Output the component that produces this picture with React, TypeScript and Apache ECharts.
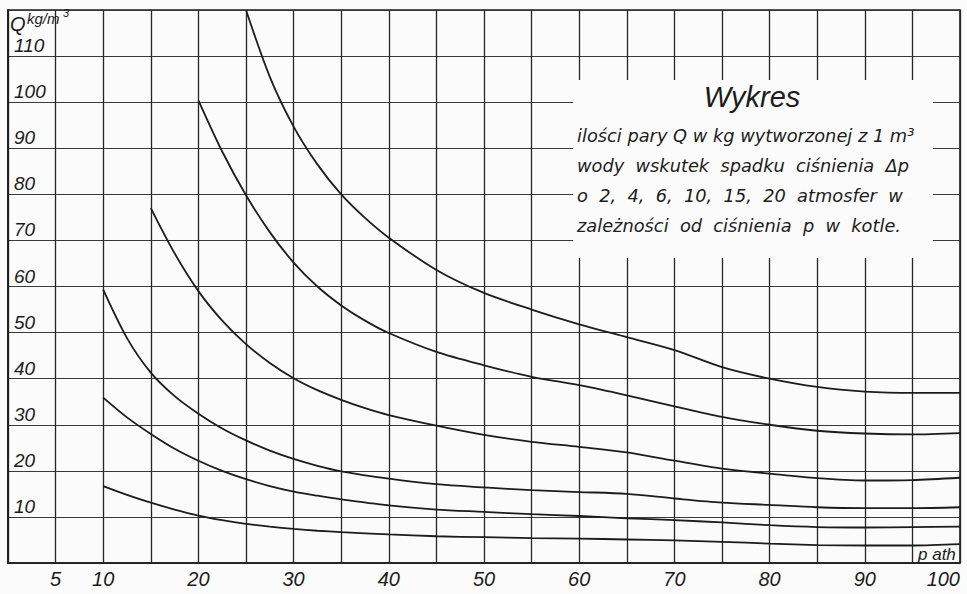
import { useEffect, useRef } from "react";
import * as echarts from "echarts";

// Pressure in boiler p [at] and steam quantity Q [kg/m3] for each pressure drop Δp
const dp2P = [10, 12.5, 15, 17.5, 20, 22.5, 25, 27.5, 30, 32.5, 35, 40, 45, 50, 55, 60, 65, 70, 75, 80, 85, 90, 95, 100];
const dp2Q = [16.7, 14.8, 13.1, 11.6, 10.3, 9.3, 8.5, 7.9, 7.4, 7.0, 6.7, 6.2, 5.8, 5.6, 5.4, 5.3, 5.1, 4.9, 4.6, 4.2, 3.9, 3.8, 3.8, 4.1];

const dp4P = [10, 12.5, 15, 17.5, 20, 22.5, 25, 27.5, 30, 32.5, 35, 40, 45, 50, 55, 60, 65, 70, 75, 80, 85, 90, 95, 100];
const dp4Q = [35.9, 31.6, 28.0, 24.8, 22.2, 20.0, 18.2, 16.7, 15.5, 14.6, 13.8, 12.5, 11.6, 11.1, 10.6, 10.2, 9.7, 9.3, 8.8, 8.2, 7.8, 7.7, 7.8, 7.9];

const dp6P = [10, 12.5, 15, 17.5, 20, 22.5, 25, 27.5, 30, 32.5, 35, 40, 45, 50, 55, 60, 65, 70, 75, 80, 85, 90, 95, 100];
const dp6Q = [59.3, 48.8, 41.3, 36.2, 32.4, 29.2, 26.6, 24.4, 22.6, 21.1, 19.9, 18.3, 17.1, 16.4, 15.8, 15.4, 15.0, 14.0, 13.1, 12.6, 12.1, 11.9, 11.9, 12.1];

const dp10P = [15, 17.5, 20, 22.5, 25, 27.5, 30, 32.5, 35, 37.5, 40, 45, 50, 55, 60, 65, 70, 75, 80, 85, 90, 95, 100];
const dp10Q = [77, 67.2, 59, 52.6, 47.5, 43.4, 40.1, 37.5, 35.4, 33.6, 32.1, 29.8, 27.8, 26.3, 25.2, 24.0, 22.2, 20.5, 19.4, 18.4, 17.9, 18.0, 18.5];

const dp15P = [20, 22.5, 25, 27.5, 30, 32.5, 35, 37.5, 40, 45, 50, 55, 60, 65, 70, 75, 80, 85, 90, 95, 100];
const dp15Q = [100.4, 89.3, 79.8, 71.8, 65.2, 60.0, 55.9, 52.6, 49.9, 45.8, 42.9, 40.4, 38.6, 36.4, 34.0, 31.7, 30.0, 28.7, 28.1, 27.9, 28.2];

const dp20P = [25, 27.5, 30, 32.5, 35, 37.5, 40, 45, 50, 55, 60, 65, 70, 75, 80, 85, 90, 95, 100];
const dp20Q = [120, 105.5, 94.7, 86.5, 80, 74.9, 70.6, 63.6, 58.6, 55, 51.8, 49, 46.2, 42.5, 40.0, 38.2, 37.2, 36.9, 36.9];

const curves = [
  { name: "Δp 2", p: dp2P, q: dp2Q },
  { name: "Δp 4", p: dp4P, q: dp4Q },
  { name: "Δp 6", p: dp6P, q: dp6Q },
  { name: "Δp 10", p: dp10P, q: dp10Q },
  { name: "Δp 15", p: dp15P, q: dp15Q },
  { name: "Δp 20", p: dp20P, q: dp20Q },
];

const xLabelValues = [5, 10, 20, 30, 40, 50, 60, 70, 80, 90, 100];
const yLabelValues = [10, 20, 30, 40, 50, 60, 70, 80, 90, 100, 110];

const titleLines = [
  "ilości pary Q w kg wytworzonej z 1 m³",
  "wody  wskutek  spadku  ciśnienia  Δp",
  "o  2,  4,  6,  10,  15,  20  atmosfer  w",
  "zależności  od  ciśnienia  p  w  kotle.",
];

const FONT = "'Liberation Sans', Arial, sans-serif";
const TFONT = "'DejaVu Sans', 'Liberation Sans', sans-serif";
const INK = "#1c1c1c";
const BG = "#fbfbfb";

export default function App() {
  const ref = useRef<HTMLDivElement>(null);

  useEffect(() => {
    if (!ref.current) return;
    const chart = echarts.init(ref.current, null, { renderer: "svg" });

    const series = curves.map((c) => ({
      name: c.name,
      type: "line",
      data: c.p.map((p, i) => [p, c.q[i]]),
      smooth: 0.3,
      symbol: "none",
      lineStyle: { color: INK, width: 1.8 },
      z: 5,
    }));

    const lineY0 = 135;
    const lineStep = 30.3;

    const graphic: any[] = [
      {
        type: "rect",
        shape: { x: 573, y: 80, width: 360, height: 178 },
        style: { fill: BG },
        z: 50,
      },
      {
        type: "text",
        x: 752,
        y: 97,
        style: {
          text: "Wykres",
          fill: INK,
          font: `italic 29px ${FONT}`,
          textAlign: "center",
          textVerticalAlign: "middle",
        },
        z: 60,
      },
      ...titleLines.map((t, i) => ({
        type: "text",
        x: 577,
        y: lineY0 + i * lineStep,
        style: {
          text: t,
          fill: INK,
          font: `oblique 17.8px ${TFONT}`,
          textAlign: "left",
          textVerticalAlign: "middle",
        },
        z: 60,
      })),
      {
        type: "text",
        x: 10,
        y: 24,
        style: { text: "Q", fill: INK, font: `italic 20px ${FONT}`, textVerticalAlign: "middle" },
        z: 60,
      },
      {
        type: "text",
        x: 27,
        y: 18,
        style: { text: "kg/m", fill: INK, font: `italic 15px ${FONT}`, textVerticalAlign: "middle" },
        z: 60,
      },
      {
        type: "text",
        x: 63,
        y: 13,
        style: { text: "3", fill: INK, font: `italic 11px ${FONT}`, textVerticalAlign: "middle" },
        z: 60,
      },
      {
        type: "text",
        x: 918,
        y: 554,
        style: { text: "p ath", fill: INK, font: `italic 17px ${FONT}`, textVerticalAlign: "middle" },
        z: 60,
      },
    ];

    chart.setOption({
      animation: false,
      backgroundColor: BG,
      grid: {
        left: 8,
        right: 7,
        top: 10,
        bottom: 31,
        containLabel: false,
        outerBoundsMode: "none",
        show: true,
        borderColor: INK,
        borderWidth: 1.6,
        backgroundColor: "transparent",
      },
      xAxis: {
        type: "value",
        min: 0,
        max: 100,
        interval: 5,
        axisLine: { show: true, lineStyle: { color: INK, width: 1.6 } },
        axisTick: { show: false },
        splitLine: { show: true, lineStyle: { color: "#262626", width: 1.3 } },
        axisLabel: {
          show: true,
          margin: 6,
          color: INK,
          fontSize: 20,
          fontStyle: "italic",
          fontFamily: FONT,
          showMaxLabel: true,
          hideOverlap: false,
          alignMaxLabel: "right",
          formatter: (v: number) => (xLabelValues.includes(v) ? String(v) : ""),
        },
      },
      yAxis: {
        type: "value",
        min: 0,
        max: 120,
        interval: 10,
        axisLine: { show: true, lineStyle: { color: INK, width: 1.6 } },
        axisTick: { show: false },
        splitLine: { show: true, lineStyle: { color: "#3a3a3a", width: 1.1 } },
        axisLabel: {
          show: true,
          inside: true,
          margin: 6,
          color: INK,
          fontSize: 19,
          fontStyle: "italic",
          fontFamily: FONT,
          align: "left",
          verticalAlign: "bottom",
          padding: [0, 0, 1, 0],
          formatter: (v: number) => (yLabelValues.includes(v) ? String(v) : ""),
        },
      },
      series,
      graphic,
    });

    return () => chart.dispose();
  }, []);

  return (
    <div
      ref={ref}
      style={{ position: "absolute", left: 0, top: 0, width: 967, height: 594, background: BG }}
    />
  );
}
